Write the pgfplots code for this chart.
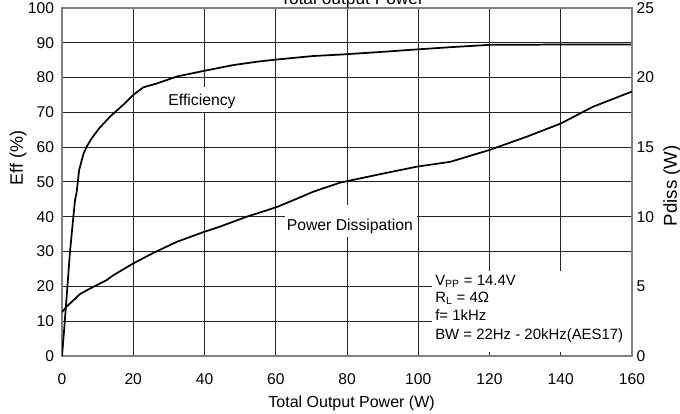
\documentclass[border=0pt]{standalone}
\usepackage{fontspec}
\setmainfont{Liberation Sans}
\usepackage{pgfplots}
\pgfplotsset{compat=1.18}

\begin{document}
\begin{tikzpicture}
  \pgfplotsset{
    every axis/.append style={
      scale only axis,
      width=427.5pt,
      height=261pt,
      at={(46.5pt,42.75pt)},
      anchor=south west,
      xmin=0, xmax=160,
      major tick length=0pt,
      tick label style={font=\fontsize{11.7}{14}\selectfont},
      /pgf/number format/assume math mode=true,
      axis line style={draw=black!50, line width=1.1pt},
    },
  }
  % left axis: efficiency
  \begin{axis}[
    ymin=0, ymax=100,
    xtick={0,20,...,160},
    ytick={0,10,...,100},
    xticklabel style={yshift=-10pt},
    yticklabel style={xshift=-2.5pt},
    grid=major,
    grid style={draw=black!85, line width=0.75pt},
    xlabel={Total Output Power (W)},
    xlabel style={font=\fontsize{12}{14}\selectfont, anchor=base, at={(axis description cs:0.508,-0.149)}},
    ylabel={Eff (\%)},
    ylabel style={font=\fontsize{13.5}{15}\selectfont, rotate=0, anchor=center, at={(axis description cs:-0.077,0.569)}},
    title={Total output Power},
    every axis title shift=0pt,
    title style={font=\fontsize{13}{15}\selectfont, anchor=base, at={(axis description cs:0.509,1.01)}},
  ]
    % white label boxes
    \fill[white] (axis cs:29.2,70.1) rectangle (axis cs:49.4,77.3);
    \fill[white] (axis cs:62.6,34.2) rectangle (axis cs:99.6,43.4);
    \fill[white] (axis cs:103.9,1.15) rectangle (axis cs:159.8,24.4);

    \addplot[black, line width=1.3pt, line join=round] coordinates {
      (0,0) (0.6,7.5) (1.3,17) (2.25,30) (3.0,38) (3.65,44.8) (4.1,47)
      (4.8,53.4) (6.0,58) (6.9,60.1) (8.3,62.5) (10.5,65.5) (13.5,68.8)
      (17,72) (20,75) (22.8,77.2) (26.6,78.3) (32.2,80.3) (39.7,81.9)
      (48.1,83.6) (55,84.6) (60.3,85.2) (70.5,86.2) (78,86.6) (90,87.4)
      (99.6,88.1) (110,88.8) (120,89.4) (140,89.5) (160,89.5)
    };

    \node[anchor=base, font=\fontsize{11.8}{14}\selectfont] at (axis cs:39.3,72.1) {Efficiency};
    \node[anchor=base, font=\fontsize{11.8}{14}\selectfont] at (axis cs:80.8,36.2) {Power Dissipation};

    \begin{scope}[every node/.style={anchor=base west, inner sep=0pt, font=\fontsize{11.2}{13}\selectfont}]
      \node at (axis cs:104.7,20.2) {V\textsubscript{PP} = 14.4V};
      \node at (axis cs:104.7,15.5) {R\textsubscript{L} = 4Ω};
      \node at (axis cs:104.7,10.1) {f= 1kHz};
      \node at (axis cs:104.7,4.6) {BW = 22Hz - 20kHz(AES17)};
    \end{scope}
  \end{axis}

  % right axis: power dissipation
  \begin{axis}[
    ymin=0, ymax=25,
    axis x line=none,
    axis y line*=right,
    ytick={0,5,...,25},
    ylabel={Pdiss (W)},
    ylabel style={font=\fontsize{14}{16}\selectfont, rotate=0, anchor=center, at={(axis description cs:1.070,0.489)}},
  ]
    \addplot[black, line width=1.3pt, line join=round] coordinates {
      (0,3.15) (1.3,3.55) (3.2,4.0) (5.05,4.45) (7.9,4.85) (12.5,5.45)
      (14.4,5.8) (20,6.65) (25.6,7.4) (32.2,8.2) (39.7,8.9) (44.4,9.3)
      (51.8,10.0) (60.3,10.7) (65,11.2) (70.5,11.8) (78,12.45) (90,13.1)
      (99.6,13.6) (109,13.95) (120,14.8) (130.4,15.75) (140,16.7)
      (149,17.9) (160,19.0)
    };
  \end{axis}

  \pgfresetboundingbox
  \path[use as bounding box] (0,0) rectangle (510pt,309.75pt);
\end{tikzpicture}
\end{document}
